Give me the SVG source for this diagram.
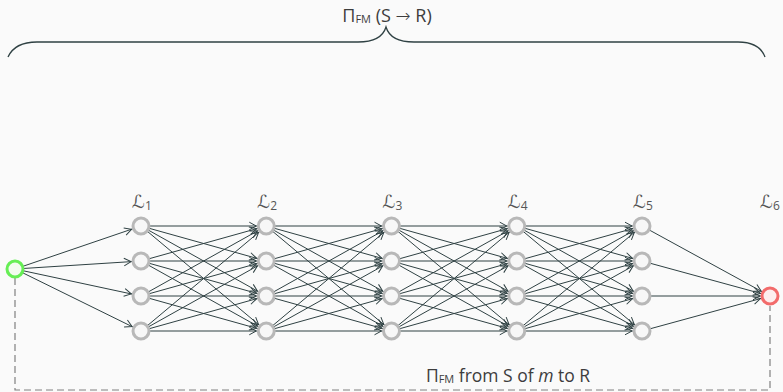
<svg xmlns="http://www.w3.org/2000/svg" xmlns:xlink="http://www.w3.org/1999/xlink" width="783" height="392" viewBox="0 0 783 392">
  <style>
    .edge { stroke: #2f4143; stroke-width: 1; fill: none; marker-end: url(#arrow); }
    .node { fill: #f7f7f7; stroke: #b8b8b8; stroke-width: 3; }
    .src { fill: #f2fcef; stroke: #66ee55; stroke-width: 3; }
    .dst { fill: #fdeeee; stroke: #f26b6b; stroke-width: 3; }
    .lbl { font-family: "DejaVu Sans", sans-serif; font-size: 18px; fill: #555; }
    .sub { font-family: "Open Sans", sans-serif; font-size: 12px; }
    .txt { font-family: "Open Sans", "Noto Sans", sans-serif; fill: #3d3d3d; }
    .brace { fill: none; stroke: #2f4143; stroke-width: 1.3; }
    .dash { fill: none; stroke: #808080; stroke-width: 1.2; stroke-dasharray: 7 4; }
  </style>
  <defs>
    <marker id="arrow" markerUnits="userSpaceOnUse" markerWidth="12" markerHeight="10" refX="10" refY="0" orient="auto" overflow="visible">
      <path d="M-7,-3.8 L0,0 L-7,3.8" fill="none" stroke="#2f4143" stroke-width="1"/>
    </marker>
    <!-- full mesh between two consecutive layers of four nodes -->
    <g id="mesh">
      <line class="edge" x1="0" y1="226" x2="125.25" y2="226"/>
      <line class="edge" x1="0" y1="226" x2="125.25" y2="261"/>
      <line class="edge" x1="0" y1="226" x2="125.25" y2="296"/>
      <line class="edge" x1="0" y1="226" x2="125.25" y2="331"/>
      <line class="edge" x1="0" y1="261" x2="125.25" y2="226"/>
      <line class="edge" x1="0" y1="261" x2="125.25" y2="261"/>
      <line class="edge" x1="0" y1="261" x2="125.25" y2="296"/>
      <line class="edge" x1="0" y1="261" x2="125.25" y2="331"/>
      <line class="edge" x1="0" y1="296" x2="125.25" y2="226"/>
      <line class="edge" x1="0" y1="296" x2="125.25" y2="261"/>
      <line class="edge" x1="0" y1="296" x2="125.25" y2="296"/>
      <line class="edge" x1="0" y1="296" x2="125.25" y2="331"/>
      <line class="edge" x1="0" y1="331" x2="125.25" y2="226"/>
      <line class="edge" x1="0" y1="331" x2="125.25" y2="261"/>
      <line class="edge" x1="0" y1="331" x2="125.25" y2="296"/>
      <line class="edge" x1="0" y1="331" x2="125.25" y2="331"/>
    </g>
  </defs>

  <rect width="783" height="392" fill="#fafafa"/>

  <!-- brace spanning the whole path, with its title -->
  <g id="title">
    <path class="brace" d="M8,57 C13,46 23,42 37,42 H358 C374,42 383,37 386,27 C389,37 398,42 414,42 H738 C752,42 761,46 765,57"/>
    <text class="txt" x="387" y="22" text-anchor="middle" font-size="18">Π<tspan font-size="11" dy="1">FM</tspan><tspan dy="-1"> (S </tspan><tspan font-family="DejaVu Sans, sans-serif" font-weight="300">→</tspan> R)</text>
  </g>

  <!-- feedback path from source to receiver -->
  <g id="feedback">
    <path class="dash" d="M15,278 V390 H770 V306"/>
    <text class="txt" x="508" y="382" text-anchor="middle" font-size="17.5">Π<tspan font-size="11" dy="1">FM</tspan><tspan dy="-1"> from S of </tspan><tspan font-style="italic">m</tspan> to R</text>
  </g>

  <g id="connectors">
    <line class="edge" x1="15" y1="269" x2="141" y2="226"/>
    <line class="edge" x1="15" y1="269" x2="141" y2="261"/>
    <line class="edge" x1="15" y1="269" x2="141" y2="296"/>
    <line class="edge" x1="15" y1="269" x2="141" y2="331"/>
    <use xlink:href="#mesh" href="#mesh" x="141"/>
    <use xlink:href="#mesh" href="#mesh" x="266.25"/>
    <use xlink:href="#mesh" href="#mesh" x="391.5"/>
    <use xlink:href="#mesh" href="#mesh" x="516.75"/>
    <line class="edge" x1="642" y1="226" x2="770" y2="296"/>
    <line class="edge" x1="642" y1="261" x2="770" y2="296"/>
    <line class="edge" x1="642" y1="296" x2="770" y2="296"/>
    <line class="edge" x1="642" y1="331" x2="770" y2="296"/>
  </g>

  <g id="source"><circle class="src" cx="15" cy="269" r="8"/></g>

  <g id="layer1">
    <text class="lbl" x="132" y="208">ℒ<tspan class="sub" dy="2">1</tspan></text>
    <circle class="node" cx="141" cy="226" r="8"/>
    <circle class="node" cx="141" cy="261" r="8"/>
    <circle class="node" cx="141" cy="296" r="8"/>
    <circle class="node" cx="141" cy="331" r="8"/>
  </g>
  <g id="layer2">
    <text class="lbl" x="257.25" y="208">ℒ<tspan class="sub" dy="2">2</tspan></text>
    <circle class="node" cx="266.25" cy="226" r="8"/>
    <circle class="node" cx="266.25" cy="261" r="8"/>
    <circle class="node" cx="266.25" cy="296" r="8"/>
    <circle class="node" cx="266.25" cy="331" r="8"/>
  </g>
  <g id="layer3">
    <text class="lbl" x="382.5" y="208">ℒ<tspan class="sub" dy="2">3</tspan></text>
    <circle class="node" cx="391.5" cy="226" r="8"/>
    <circle class="node" cx="391.5" cy="261" r="8"/>
    <circle class="node" cx="391.5" cy="296" r="8"/>
    <circle class="node" cx="391.5" cy="331" r="8"/>
  </g>
  <g id="layer4">
    <text class="lbl" x="507.75" y="208">ℒ<tspan class="sub" dy="2">4</tspan></text>
    <circle class="node" cx="516.75" cy="226" r="8"/>
    <circle class="node" cx="516.75" cy="261" r="8"/>
    <circle class="node" cx="516.75" cy="296" r="8"/>
    <circle class="node" cx="516.75" cy="331" r="8"/>
  </g>
  <g id="layer5">
    <text class="lbl" x="633" y="208">ℒ<tspan class="sub" dy="2">5</tspan></text>
    <circle class="node" cx="642" cy="226" r="8"/>
    <circle class="node" cx="642" cy="261" r="8"/>
    <circle class="node" cx="642" cy="296" r="8"/>
    <circle class="node" cx="642" cy="331" r="8"/>
  </g>
  <g id="layer6">
    <text class="lbl" x="760" y="208">ℒ<tspan class="sub" dy="2">6</tspan></text>
    <circle class="dst" cx="770" cy="296" r="8"/>
  </g>
</svg>
